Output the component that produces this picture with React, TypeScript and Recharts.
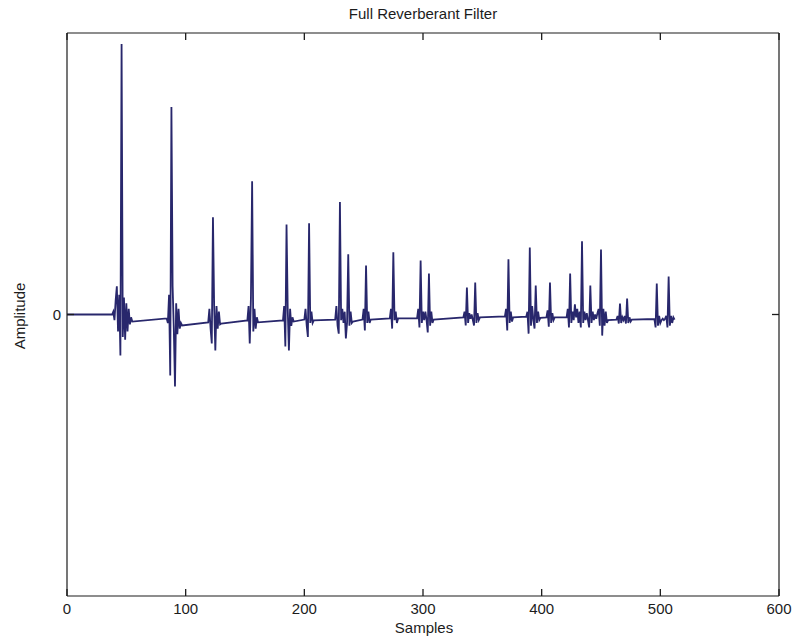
import { LineChart, Line, XAxis, YAxis, Label } from "recharts";

// sample index and amplitude, one row per echo burst
const samples = [
  0, 38,
  39, 40, 41, 42, 43, 44, 45, 46, 47, 48, 49, 50, 51, 52, 53, 54, 55,
  84, 85, 86, 87, 88, 89, 90, 91, 92, 93, 94, 95, 96, 97,
  119, 120, 121, 122, 123, 124, 125, 126, 127, 128, 129, 130,
  152, 153, 154, 155, 156, 157, 158, 159, 160, 161,
  182, 183, 184, 185, 186, 187, 188, 189, 190, 191,
  200, 201, 202, 203, 204, 205, 206, 207, 208,
  226, 227, 228, 229, 230, 231, 232, 233, 234, 235, 236, 237, 238, 239, 240, 241,
  249, 250, 251, 252, 253, 254, 255, 256,
  272, 273, 274, 275, 276, 277, 278, 279,
  295, 296, 297, 298, 299, 300, 301, 302, 303, 304, 305, 306, 307, 308, 309,
  334, 335, 336, 337, 338, 339, 340, 341, 342, 343, 344, 345, 346, 347, 348,
  369, 370, 371, 372, 373, 374, 375, 376,
  387, 388, 389, 390, 391, 392, 393, 394, 395, 396, 397, 398, 399,
  404, 405, 406, 407, 408, 409, 410, 411,
  421, 422, 423, 424, 425, 426, 427, 428, 429, 430, 431, 432, 433, 434, 435, 436,
  437, 438, 439, 440, 441, 442, 443, 444, 445, 446, 447, 448, 449, 450, 451, 452,
  453, 454, 455, 456,
  463, 464, 465, 466, 467, 468, 469, 470, 471, 472, 473, 474, 475, 476,
  495, 496, 497, 498, 499, 500, 501, 502, 503, 504, 505, 506, 507, 508, 509, 510,
  511, 512,
];

const amplitude = [
  0, 0,
  0.01, -0.02, 0.05, 0.1, -0.06, 0.07, -0.146, 0.961, -0.08, 0.06, -0.09, 0.04, -0.06, 0.02, -0.035, -0.01, -0.025,
  -0.014, -0.03, 0.07, -0.217, 0.737, 0.1, -0.05, -0.256, 0.04, -0.07, 0.02, -0.05, -0.03, -0.039,
  -0.028, 0.02, -0.05, -0.103, 0.345, 0.03, -0.128, 0.03, -0.05, 0.01, -0.035, -0.032,
  -0.021, 0.03, -0.103, 0.06, 0.473, -0.06, 0.02, -0.05, -0.01, -0.028,
  -0.021, 0.03, -0.114, 0.32, 0.02, -0.128, 0.02, -0.04, -0.01, -0.025,
  -0.018, 0.02, -0.04, -0.08, 0.324, -0.03, 0.01, -0.03, -0.021,
  -0.018, 0.03, -0.04, -0.068, 0.4, -0.02, 0.02, -0.03, 0.01, -0.085, -0.03, 0.214, -0.04, 0.01, -0.03, -0.025,
  -0.018, 0.02, -0.057, 0.174, -0.03, 0.01, -0.03, -0.018,
  -0.014, 0.02, -0.05, 0.221, -0.02, 0.01, -0.03, -0.014,
  -0.014, 0.02, -0.046, 0.192, -0.03, 0.01, -0.02, 0.01, -0.02, -0.064, 0.146, -0.04, 0.01, -0.03, -0.018,
  -0.01, 0.01, -0.039, 0.096, -0.03, 0.005, -0.015, 0, -0.02, -0.039, 0.114, -0.03, 0.005, -0.02, -0.01,
  -0.007, 0.02, -0.057, 0.196, -0.03, 0.01, -0.025, -0.01,
  -0.008, 0.01, -0.068, 0.238, -0.04, 0.03, -0.02, -0.05, 0.103, -0.03, 0.01, -0.02, -0.012,
  -0.01, 0.015, -0.043, 0.114, -0.03, 0.005, -0.02, -0.01,
  -0.01, 0.02, -0.046, 0.146, -0.03, 0.01, -0.02, 0.036, -0.01, 0.02, -0.03, 0.01, -0.046, 0.26, -0.03, 0.01,
  -0.02, 0.005, -0.02, -0.046, 0.103, -0.03, 0.01, -0.02, 0, -0.015, 0.005, 0.02, -0.04, 0.231, -0.075, 0.02,
  -0.04, 0.01, -0.03, -0.02,
  -0.018, -0.005, -0.032, 0.039, -0.03, -0.01, -0.02, -0.005, -0.032, 0.057, -0.03, -0.01, -0.025, -0.018,
  -0.016, -0.046, 0.11, -0.04, -0.005, -0.03, -0.02, -0.015, -0.02, -0.015, -0.005, -0.046, 0.135, -0.04, -0.005, -0.03,
  -0.01, -0.018,
];

const xTicks = [0, 100, 200, 300, 400, 500, 600];
const yTicks = [0];

const FONT = '"Liberation Sans", Arial, Helvetica, sans-serif';
const INK = "#1c1c1c";
const LINE_COLOR = "#28276c";
const TICK_LEN = 7;

const data = samples.map((s, i) => ({ s, amp: amplitude[i] }));

// MATLAB style: tick marks point into the plot box
function BottomTick(props: any) {
  const { x, y, payload } = props;
  return (
    <g>
      <line x1={x} y1={y} x2={x} y2={y - TICK_LEN} stroke={INK} strokeWidth={1.3} />
      <text x={x} y={y + 18} textAnchor="middle" fontSize={15} fontFamily={FONT} fill={INK}>
        {payload.value}
      </text>
    </g>
  );
}

function TopTick(props: any) {
  const { x, y } = props;
  return <line x1={x} y1={y} x2={x} y2={y + TICK_LEN} stroke={INK} strokeWidth={1.3} />;
}

function LeftTick(props: any) {
  const { x, y, payload } = props;
  return (
    <g>
      <line x1={x} y1={y} x2={x + TICK_LEN} y2={y} stroke={INK} strokeWidth={1.3} />
      <text x={x - 6} y={y + 5} textAnchor="end" fontSize={15} fontFamily={FONT} fill={INK}>
        {payload.value}
      </text>
    </g>
  );
}

function RightTick(props: any) {
  const { x, y } = props;
  return <line x1={x} y1={y} x2={x - TICK_LEN} y2={y} stroke={INK} strokeWidth={1.3} />;
}

export default function App() {
  return (
    <div style={{ position: "absolute", left: 0, top: 0, width: 796, height: 639, background: "#fff" }}>
      <LineChart width={796} height={639} data={data} margin={{ top: 32, right: 16, bottom: 0, left: 0 }}>
        <XAxis
          dataKey="s"
          type="number"
          domain={[0, 600]}
          ticks={xTicks}
          height={43}
          tickSize={0}
          tickMargin={0}
          tickLine={false}
          tick={BottomTick}
          stroke={INK}
          strokeWidth={1.2}
          allowDataOverflow
        >
          <Label
            content={() => (
              <text x={424} y={633} textAnchor="middle" fontSize={15} fontFamily={FONT} fill={INK}>
                Samples
              </text>
            )}
          />
        </XAxis>
        <XAxis
          xAxisId="top"
          orientation="top"
          type="number"
          dataKey="s"
          domain={[0, 600]}
          ticks={xTicks}
          height={1}
          tickSize={0}
          tickMargin={0}
          tickLine={false}
          tick={TopTick}
          stroke={INK}
          strokeWidth={1.2}
          allowDataOverflow
        >
          <Label
            content={() => (
              <text x={423} y={19} textAnchor="middle" fontSize={15} fontFamily={FONT} fill={INK}>
                Full Reverberant Filter
              </text>
            )}
          />
        </XAxis>
        <YAxis
          type="number"
          domain={[-1, 1]}
          ticks={yTicks}
          width={67}
          tickSize={0}
          tickMargin={0}
          tickLine={false}
          tick={LeftTick}
          stroke={INK}
          strokeWidth={1.2}
          allowDataOverflow
        >
          <Label
            content={() => (
              <text
                x={19}
                y={316}
                transform="rotate(-90 19 316)"
                textAnchor="middle"
                dominantBaseline="central"
                fontSize={15}
                fontFamily={FONT}
                fill={INK}
              >
                Amplitude
              </text>
            )}
          />
        </YAxis>
        <YAxis
          yAxisId="right"
          orientation="right"
          type="number"
          domain={[-1, 1]}
          ticks={yTicks}
          width={1}
          tickSize={0}
          tickMargin={0}
          tickLine={false}
          tick={RightTick}
          stroke={INK}
          strokeWidth={1.2}
          allowDataOverflow
        />
        {/* invisible copy so the top / right frame axes get drawn */}
        <Line
          xAxisId="top"
          yAxisId="right"
          type="linear"
          dataKey="amp"
          stroke="none"
          dot={false}
          activeDot={false}
          isAnimationActive={false}
        />
        <Line
          type="linear"
          dataKey="amp"
          stroke={LINE_COLOR}
          strokeWidth={1.8}
          dot={false}
          isAnimationActive={false}
        />
      </LineChart>
    </div>
  );
}
